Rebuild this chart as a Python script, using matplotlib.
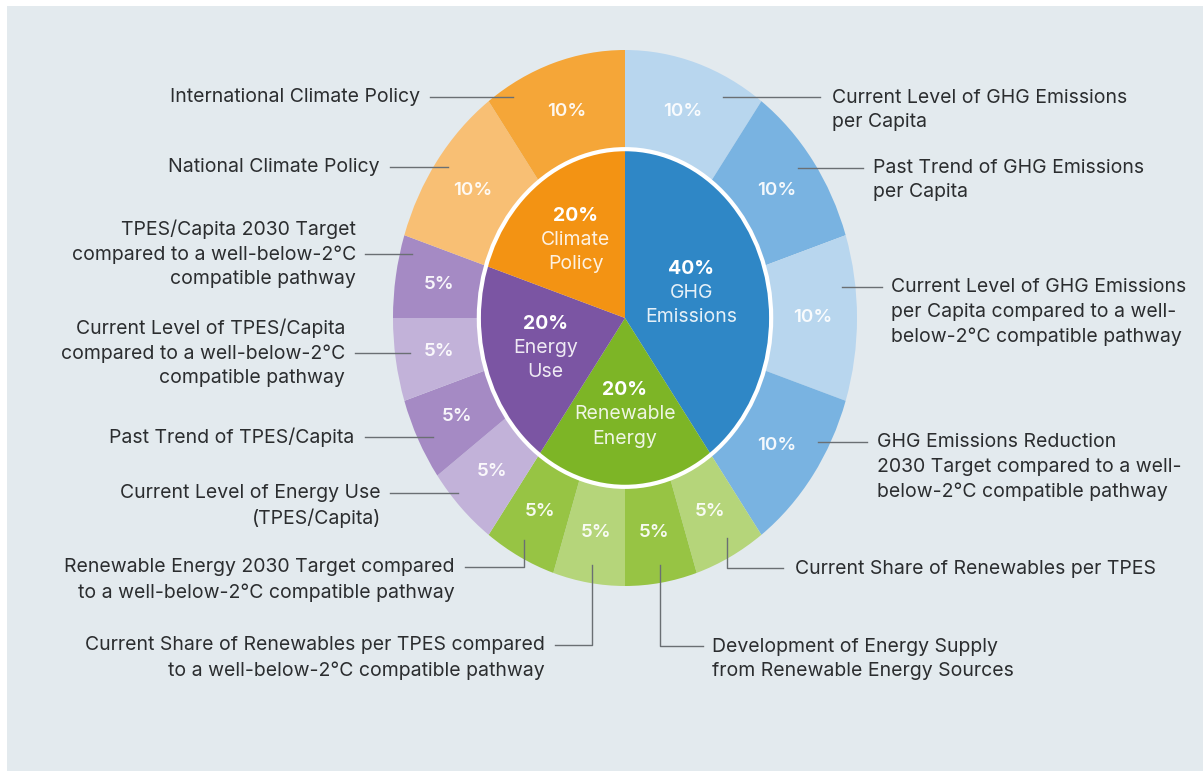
import matplotlib
matplotlib.use("Agg")
import matplotlib.pyplot as plt
from matplotlib.patches import Circle, Rectangle
import numpy as np

plt.rcParams['font.family'] = ['Inter', 'DejaVu Sans']

# inner ring: main categories (clockwise from top)
inner_names = ['GHG\nEmissions', 'Renewable\nEnergy', 'Energy\nUse', 'Climate\nPolicy']
inner_vals = [40, 20, 20, 20]
inner_colors = ['#2f87c6', '#7db526', '#7b55a3', '#f39313']

# outer ring: indicators (clockwise from top)
outer_names = [
    'Current Level of GHG Emissions\nper Capita',
    'Past Trend of GHG Emissions\nper Capita',
    'Current Level of GHG Emissions\nper Capita compared to a well-\nbelow-2°C compatible pathway',
    'GHG Emissions Reduction\n2030 Target compared to a well-\nbelow-2°C compatible pathway',
    'Current Share of Renewables per TPES',
    'Development of Energy Supply\nfrom Renewable Energy Sources',
    'Current Share of Renewables per TPES compared\nto a well-below-2°C compatible pathway',
    'Renewable Energy 2030 Target compared\nto a well-below-2°C compatible pathway',
    'Current Level of Energy Use\n(TPES/Capita)',
    'Past Trend of TPES/Capita',
    'Current Level of TPES/Capita\ncompared to a well-below-2°C\ncompatible pathway',
    'TPES/Capita 2030 Target\ncompared to a well-below-2°C\ncompatible pathway',
    'National Climate Policy',
    'International Climate Policy',
]
outer_vals = [10, 10, 10, 10, 5, 5, 5, 5, 5, 5, 5, 5, 10, 10]
outer_colors = ['#b8d6ee', '#79b3e1', '#b8d6ee', '#79b3e1',
                '#b5d57a', '#97c444', '#b5d57a', '#97c444',
                '#c2b2d9', '#a58ac4', '#c2b2d9', '#a58ac4',
                '#f8bf74', '#f5a638']

# label layout in pixels: text x, text y (block centre), alignment, leader line
label_layout = [
    (832, 110, 'left', [(820, 97), (723, 97)]),
    (873, 180, 'left', [(863, 168), (798, 168)]),
    (891, 312, 'left', [(882, 287), (842, 287)]),
    (877, 467, 'left', [(867, 442), (818, 442)]),
    (795, 569, 'left', [(783, 568), (727, 568), (727, 538)]),
    (712, 659, 'left', [(703, 646), (660, 646), (660, 565)]),
    (545, 658, 'right', [(555, 645), (592, 645), (592, 565)]),
    (455, 580, 'right', [(465, 567), (524, 567), (524, 540)]),
    (381, 506, 'right', [(390, 493), (458, 493)]),
    (354, 437, 'right', [(365, 437), (433, 437)]),
    (345, 353, 'right', [(355, 353), (410, 353)]),
    (356, 254, 'right', [(365, 254), (412, 254)]),
    (380, 167, 'right', [(390, 167), (448, 167)]),
    (420, 97, 'right', [(430, 97), (513, 97)]),
]

W, H = 1203, 771
fig = plt.figure(figsize=(W / 100, H / 100), dpi=100, facecolor='white')
fig.patches.append(Rectangle((7 / W, 0), 1, (H - 6) / H, transform=fig.transFigure,
                             facecolor='#e3eaee', edgecolor='none', zorder=-10))

# pie axes (stretched ellipse like the source)
cx, cy, rx, ry = 625, 318, 232, 268
ax = fig.add_axes([(cx - rx) / W, (H - cy - ry) / H, 2 * rx / W, 2 * ry / H], zorder=1)
ax.set_facecolor('none')

r_in = 0.63
wedges_out, _, pcts = ax.pie(outer_vals, radius=1, startangle=90, counterclock=False,
                             colors=outer_colors, autopct=lambda p: f'{p:.0f}%',
                             pctdistance=0.81,
                             wedgeprops=dict(width=1 - r_in, linewidth=0))
for t in pcts:
    t.set_color('white')
    t.set_alpha(0.92)
    t.set_fontsize(13.5)
    t.set_fontweight('semibold')

wedges_in, _ = ax.pie(inner_vals, radius=r_in, startangle=90, counterclock=False,
                      colors=inner_colors, wedgeprops=dict(linewidth=0))
ax.add_patch(Circle((0, 0), r_in, fill=False, edgecolor='white', linewidth=3, zorder=5))

total = sum(inner_vals)
for w, name, v in zip(wedges_in, inner_names, inner_vals):
    mid = np.deg2rad((w.theta1 + w.theta2) / 2)
    rr = 0.3 if v == max(inner_vals) else 0.36
    x, y = rr * np.cos(mid), rr * np.sin(mid)
    lines = [f'{v / total * 100:.0f}%'] + name.split('\n')
    for k, line in enumerate(lines):
        ax.annotate(line, xy=(x, y), xytext=(0, (1 - k) * 17.5), textcoords='offset points',
                    ha='center', va='center', color='white', fontsize=14,
                    fontweight='bold' if k == 0 else 'normal',
                    alpha=1.0 if k == 0 else 0.88, zorder=6)

ax.set_aspect('auto')
ax.set_xlim(-1, 1)
ax.set_ylim(-1, 1)
ax.axis('off')

# overlay axes in pixel coords for labels and leader lines
ov = fig.add_axes([0, 0, 1, 1], zorder=3)
ov.set_xlim(0, W)
ov.set_ylim(H, 0)
ov.set_facecolor('none')
ov.axis('off')

for name, (tx, ty, ha, pts) in zip(outer_names, label_layout):
    xs, ys = zip(*pts)
    ov.plot(xs, ys, color='#6a6f73', linewidth=1)
    ov.text(tx, ty, name, ha=ha, va='center', fontsize=14, color='#2b2d2f',
            linespacing=1.45)

fig.savefig('out.png', dpi=100, facecolor=fig.get_facecolor())
